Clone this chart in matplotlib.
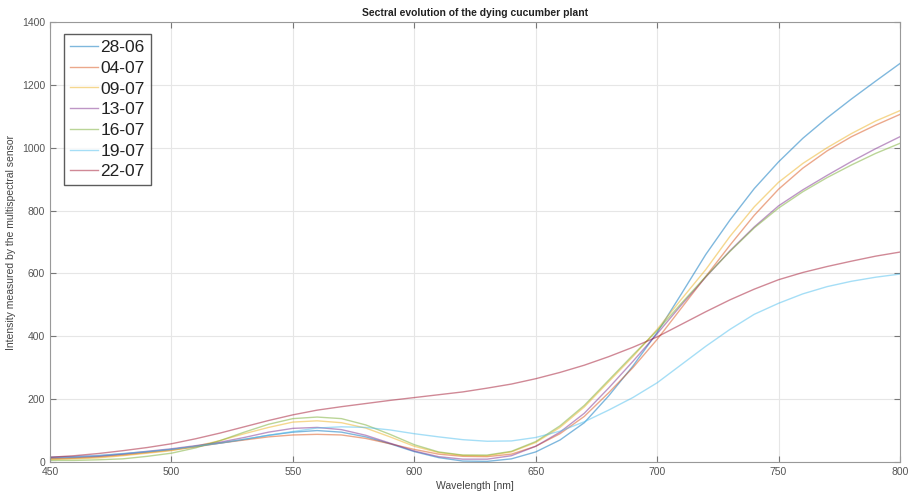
import numpy as np
import matplotlib
matplotlib.use("Agg")
import matplotlib.pyplot as plt

plt.rcParams["font.family"] = ["Liberation Sans", "DejaVu Sans"]

wavelength = np.arange(450, 801, 10)

i_2806 = [12, 14, 18, 25, 32, 40, 50, 60, 72, 85, 95, 100, 95, 80, 58, 33, 14, 3, 2, 10,
          32, 70, 125, 210, 305, 412, 535, 660, 770, 870, 955, 1030, 1095, 1155, 1212, 1268]
i_0407 = [10, 12, 16, 22, 30, 38, 48, 60, 70, 80, 86, 88, 86, 75, 58, 40, 25, 18, 17, 25,
          50, 90, 145, 220, 300, 390, 490, 590, 690, 785, 868, 935, 990, 1035, 1072, 1106]
i_0907 = [8, 10, 13, 20, 28, 36, 50, 68, 90, 110, 127, 131, 125, 108, 80, 50, 30, 21, 20, 32,
          62, 110, 175, 255, 335, 422, 518, 612, 718, 812, 890, 950, 1000, 1045, 1085, 1118]
i_1307 = [15, 17, 20, 26, 34, 42, 52, 63, 78, 95, 107, 110, 103, 85, 60, 35, 17, 9, 9, 20,
          50, 95, 155, 235, 320, 408, 500, 588, 672, 748, 815, 866, 912, 956, 997, 1035]
i_1607 = [5, 5, 7, 10, 18, 28, 45, 68, 95, 120, 138, 143, 138, 118, 88, 55, 32, 22, 22, 34,
          65, 115, 180, 260, 340, 418, 505, 590, 670, 745, 808, 860, 905, 945, 982, 1014]
i_1907 = [15, 17, 21, 27, 33, 40, 50, 60, 72, 85, 97, 108, 112, 110, 102, 90, 80, 71, 66, 67,
          78, 98, 128, 165, 205, 252, 310, 368, 422, 470, 505, 535, 558, 575, 588, 598]
i_2207 = [15, 20, 27, 36, 46, 58, 74, 92, 112, 132, 150, 165, 176, 186, 196, 205, 214, 223, 235, 248,
          265, 285, 308, 335, 365, 398, 438, 478, 516, 550, 580, 603, 622, 639, 655, 668]

dates = ["28-06", "04-07", "09-07", "13-07", "16-07", "19-07", "22-07"]
series = [i_2806, i_0407, i_0907, i_1307, i_1607, i_1907, i_2207]
colors = [(0.0, 0.447, 0.741), (0.85, 0.325, 0.098), (0.929, 0.694, 0.125),
          (0.494, 0.184, 0.556), (0.466, 0.674, 0.188), (0.301, 0.745, 0.933),
          (0.635, 0.078, 0.184)]

fig = plt.figure(figsize=(9.11, 4.98), dpi=100)
ax = fig.add_axes([0.0549, 0.0723, 0.933, 0.8835])

for d, s, c in zip(dates, series, colors):
    ax.plot(wavelength, s, color=c, alpha=0.5, lw=1.0, label=d)

ax.set_xlim(450, 800)
ax.set_ylim(0, 1400)
ax.set_xticks(np.arange(450, 801, 50))
ax.set_yticks(np.arange(0, 1401, 200))
ax.grid(True, color="#e6e6e6", lw=0.8)
ax.set_axisbelow(True)
ax.tick_params(direction="in", top=True, right=True, length=4, width=0.8,
               color="#777777", labelsize=7.5, labelcolor="#555555")
for sp in ax.spines.values():
    sp.set_color("#999999")
    sp.set_linewidth(0.8)

ax.set_title("Sectral evolution of the dying cucumber plant", fontsize=7.5,
             fontweight="bold", color="#222222", pad=4)
ax.set_xlabel("Wavelength [nm]", fontsize=7.5, color="#444444", labelpad=3)
ax.set_ylabel("Intensity measured by the multispectral sensor", fontsize=7.5,
              color="#444444", labelpad=4)

leg = ax.legend(loc="upper left", fontsize=12.5, frameon=True, fancybox=False,
                handlelength=1.6, handletextpad=0.15, labelspacing=0.32,
                borderpad=0.35, borderaxespad=0.0, bbox_to_anchor=(0.0165, 0.973))
leg.get_frame().set_edgecolor("#333333")
leg.get_frame().set_linewidth(1.0)
for t in leg.get_texts():
    t.set_color("#222222")

fig.savefig("out.png", dpi=100)
